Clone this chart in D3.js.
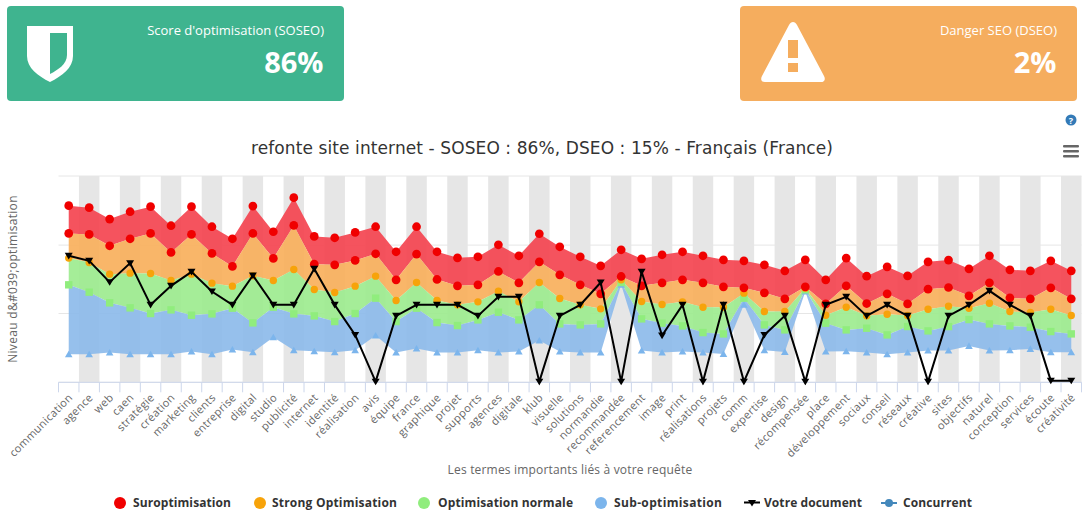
<!DOCTYPE html>
<html><head><meta charset="utf-8">
<script src="https://cdn.jsdelivr.net/npm/d3@7"></script>
<style>html,body{margin:0;padding:0;background:#fff}svg{display:block}text{font-family:"Open Sans",sans-serif}</style>
</head><body><svg id="c" width="1086" height="516"></svg>
<script>
const categories=["communication","agence","web","caen","stratégie","création","marketing","clients","entreprise","digital","studio","publicité","internet","identité","réalisation","avis","équipe","france","graphique","projet","supports","agences","digitale","klub","visuelle","solutions","normandie","recommandée","referencement","image","print","réalisations","projets","comm","expertise","design","récompensée","place","développement","sociaux","conseil","réseaux","créative","sites","objectifs","naturel","conception","services","écoute","créativité"];
const suroptimisation=[529,523,489,511,526,469,526,466,430,528,451,553,437,433,449,466,391,466,391,373,376,412,379,445,406,376,349,397,370,382,391,379,367,364,352,334,367,307,372,318,346,319,361,366,340,379,337,334,364,334];
const strongTop=[446,443,409,430,446,389,443,386,347,446,371,470,354,352,365,385,307,384,308,289,292,332,298,361,322,292,265,317,289,298,307,298,286,283,268,250,286,235,289,236,265,235,279,284,259,298,253,250,283,250];
const normalTop=[372,359,324,327,326,305,324,297,288,319,305,338,278,269,288,318,245,299,245,232,241,273,241,299,251,232,220,307,242,233,241,225,225,267,212,212,282,201,225,199,204,200,219,228,222,237,212,209,219,200];
const subTop=[292,270,238,223,206,217,201,205,222,178,225,205,199,182,206,252,182,222,179,170,187,210,187,232,175,172,175,299,190,177,169,149,145,252,172,157,277,177,157,162,142,167,154,167,188,175,169,165,152,145];
const subBottom=[84,84,89,84,84,84,92,84,98,90,135,96,93,90,96,140,89,101,89,89,96,89,92,125,92,89,89,292,95,89,92,89,85,232,96,91,272,92,93,89,84,89,95,95,109,95,96,100,90,90];
const votreDocument=[379,364,300,357,232,289,331,272,232,320,232,232,340,232,142,2,199,232,232,232,199,256,256,2,199,232,299,2,331,140,232,2,232,2,142,199,2,232,256,199,232,199,2,199,232,274,232,199,5,5];
const gridValues=[0,206,411,618];
const legendNames=["Suroptimisation","Strong Optimisation","Optimisation normale","Sub-optimisation","Votre document","Concurrent"];
const xTitle="Les termes importants liés à votre requête";
const yTitle="Niveau d&#039;optimisation";
const chartTitle="refonte site internet - SOSEO : 86%, DSEO : 15% - Français (France)";

const svg=d3.select("#c");
const L=58.5,R=1081.5,T=176,B=382.3;
const x=d3.scaleBand().domain(categories).range([L,R]);
const y=d3.scaleLinear().domain([0,618]).range([B,T]);
const cx=c=>x(c)+x.bandwidth()/2;
const col={red:"#f00000",org:"#f7a30a",grn:"#90ed7d",blu:"#7cb5ec",blk:"#000"};

function card(px,fill,label,val,icon){
  const g=svg.append("g");
  g.append("rect").attr("x",px).attr("y",6).attr("width",337).attr("height",95).attr("rx",4).attr("fill",fill);
  g.append("path").attr("d",icon).attr("fill","#fff").attr("fill-rule","evenodd");
  g.append("text").attr("x",px+317).attr("y",35).attr("text-anchor","end").attr("fill","#fff").attr("font-size",13).text(label);
  g.append("text").attr("x",px+316.5).attr("y",73).attr("text-anchor","end").attr("fill","#fff").attr("font-size",29).attr("font-weight",700).text(val);
}
const shield="M27 26H73V56C73 68 62 76 50 82C38 76 27 68 27 56ZM50 33V74C58 70 67 64 67 55V33Z";
const warn="M789 25C791 21 795 21 797 25L824 76C826 80 824 82 821 82H765C762 82 760 80 762 76ZM788 40V58H798V40ZM788 63V72H798V63Z";
card(7,"#3fb48f","Score d'optimisation (SOSEO)","86%",shield);
card(740,"#f5ad5e","Danger SEO (DSEO)","2%",warn);

svg.append("circle").attr("cx",1071).attr("cy",120).attr("r",5.5).attr("fill","#337ab7");
svg.append("text").attr("x",1071).attr("y",123.5).attr("text-anchor","middle").attr("font-size",9).attr("font-weight",700).attr("fill","#fff").text("?");
[146,151,156].forEach(v=>svg.append("rect").attr("x",1063).attr("y",v-1).attr("width",16).attr("height",2.6).attr("rx",1).attr("fill","#666"));

svg.append("text").attr("x",542).attr("y",154).attr("text-anchor","middle").attr("font-size",17).attr("fill","#333").style("font-family","'DejaVu Sans'").attr("textLength",582).attr("lengthAdjust","spacing").text(chartTitle);

svg.append("g").selectAll("rect").data(categories.filter((d,i)=>i%2==1)).join("rect")
 .attr("x",d=>x(d)).attr("y",T).attr("width",x.bandwidth()).attr("height",B-T).attr("fill","#e6e6e6");
svg.append("g").selectAll("line").data(gridValues).join("line")
 .attr("x1",L).attr("x2",R).attr("y1",d=>y(d)).attr("y2",d=>y(d)).attr("stroke","#e6e6e6");

const band=(hi,lo,c)=>{
  const a=d3.area().x((d,i)=>cx(categories[i])).y0((d,i)=>y(lo[i])).y1((d,i)=>y(hi[i]));
  svg.append("path").attr("d",a(hi)).attr("fill",c).attr("fill-opacity",.92);
};
band(suroptimisation,strongTop,"#f44450");
band(strongTop,normalTop,"#f8b05c");
band(normalTop,subTop,"#9dec8f");
band(subTop,subBottom,"#8dbbea");

const ax=svg.append("g");
ax.append("line").attr("x1",L).attr("x2",R).attr("y1",B).attr("y2",B).attr("stroke","#ccd6eb");
const edges=categories.map(c=>x(c)).concat([R]);
ax.selectAll(".t").data(edges).join("line").attr("class","t").attr("x1",d=>d).attr("x2",d=>d).attr("y1",B).attr("y2",B+10).attr("stroke","#ccd6eb");
ax.selectAll("text").data(categories).join("text")
 .attr("transform",d=>`translate(${cx(d)+4.5},${B+16}) rotate(-45)`)
 .attr("text-anchor","end").attr("font-size",11).attr("fill","#666").attr("letter-spacing",.3).text(d=>d);

const sym=(type,size)=>d3.symbol().type(type).size(size)();
function dots(vals,c,path){
  svg.append("g").selectAll("path").data(vals).join("path")
   .attr("d",path).attr("fill",c).attr("transform",(d,i)=>`translate(${cx(categories[i])},${y(d)})`);
}
dots(subBottom,col.blu,"M0-3.6L3.8 3H-3.8Z");
dots(subTop,col.grn,"M-3.7-3.7H3.7V3.7H-3.7Z");
dots(normalTop,col.org,sym(d3.symbolCircle,43));
dots(strongTop,col.red,sym(d3.symbolCircle,60));
dots(suroptimisation,col.red,sym(d3.symbolCircle,60));

const ln=d3.line().x((d,i)=>cx(categories[i])).y(d=>y(d));
svg.append("path").attr("d",ln(votreDocument)).attr("fill","none").attr("stroke","#000").attr("stroke-width",2);
dots(votreDocument,"#000","M-4-3H4L0 3.6Z");

svg.append("text").attr("x",570).attr("y",474).attr("text-anchor","middle").attr("font-size",12).attr("fill","#666").attr("letter-spacing",.18).text(xTitle);
svg.append("text").attr("transform","translate(17,279) rotate(-90)").attr("text-anchor","middle").attr("font-size",12).attr("fill","#666").attr("letter-spacing",.3).text(yTitle);

const lg=[[120,133,col.red,"c",98],[260,272,col.org,"c",125],[424,438,col.grn,"c",135],[601,614,col.blu,"c",108],[752,764,"#000","d",98],[889,903,"#4488bb","l",69]];
lg.forEach((l,i)=>{
  const g=svg.append("g");
  if(l[3]=="c") g.append("circle").attr("cx",l[0]).attr("cy",503).attr("r",6).attr("fill",l[2]);
  if(l[3]=="d"){g.append("line").attr("x1",l[0]-8).attr("x2",l[0]+8).attr("y1",502.5).attr("y2",502.5).attr("stroke","#000").attr("stroke-width",2);g.append("path").attr("d","M-4-3H4L0 3.6Z").attr("transform",`translate(${l[0]},503)`);}
  if(l[3]=="l"){g.append("line").attr("x1",l[0]-8).attr("x2",l[0]+8).attr("y1",503).attr("y2",503).attr("stroke",l[2]).attr("stroke-width",2);g.append("circle").attr("cx",l[0]).attr("cy",503).attr("r",4).attr("fill",l[2]);}
  g.append("text").attr("x",l[1]).attr("y",507).attr("font-size",12).attr("font-weight",700).attr("fill","#333").attr("textLength",l[4]).attr("lengthAdjust","spacing").text(legendNames[i]);
});
</script></body></html>
